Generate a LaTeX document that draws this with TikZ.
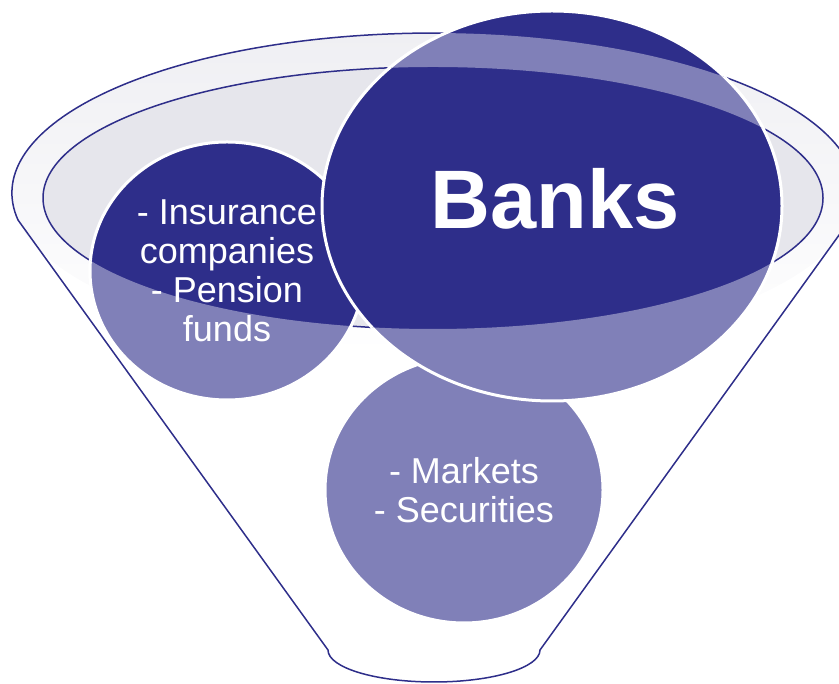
\documentclass[tikz,border=0pt]{standalone}
\usepackage{fontspec}
\setmainfont{Liberation Sans}

\definecolor{darkblue}{RGB}{46,46,138}
\definecolor{midblue}{RGB}{128,128,184}
\definecolor{ringgray}{RGB}{239,239,243}
\definecolor{innergray}{RGB}{230,230,236}

% outline of the funnel: top rim, both sides and the spout
\def\funnelpath{(18,464) arc[start angle=189.7, end angle=-9.7, x radius=422, y radius=160]
  -- (540,34) arc[start angle=0, end angle=-180, x radius=106, y radius=32] -- cycle}

\begin{document}
\begin{tikzpicture}[x=0.5pt,y=0.5pt,
                    rim/.style={draw=darkblue,line width=0.75pt},
                    bubble/.style={draw=white,line width=1.5pt},
                    label text/.style={text=white,align=center,font=\fontsize{18}{19.5}\selectfont}]

  \useasboundingbox (0,0) rectangle (839,684);

  % funnel
  \shade[top color=ringgray,middle color=ringgray,bottom color=white]
    (434,491) ellipse [x radius=422, y radius=160];
  \draw[rim] \funnelpath;
  \draw[rim,fill=innergray] (433,486) ellipse [x radius=390, y radius=131];

  % bubbles
  \path[bubble,fill=darkblue] (227,413) ellipse [x radius=137, y radius=129];
  \path[bubble,fill=darkblue] (464,194) ellipse [x radius=139, y radius=133];
  \path[bubble,fill=darkblue] (552,478) ellipse [x radius=230, y radius=195];

  % lighter where the funnel wall lies over them
  \begin{scope}[even odd rule]
    \clip \funnelpath (433,486) ellipse [x radius=390, y radius=131];
    \path[bubble,fill=midblue] (227,413) ellipse [x radius=137, y radius=129];
    \path[bubble,fill=midblue] (464,194) ellipse [x radius=139, y radius=133];
    \path[bubble,fill=midblue] (552,478) ellipse [x radius=230, y radius=195];
  \end{scope}

  \node[label text] (insurance) at (227,413) {- Insurance\\companies\\- Pension\\funds};
  \node[label text] (markets) at (464,194) {- Markets\\- Securities};
  \node[text=white,font=\fontsize{41.5}{45}\selectfont\bfseries] (banks) at (555,485) {Banks};
\end{tikzpicture}
\end{document}
